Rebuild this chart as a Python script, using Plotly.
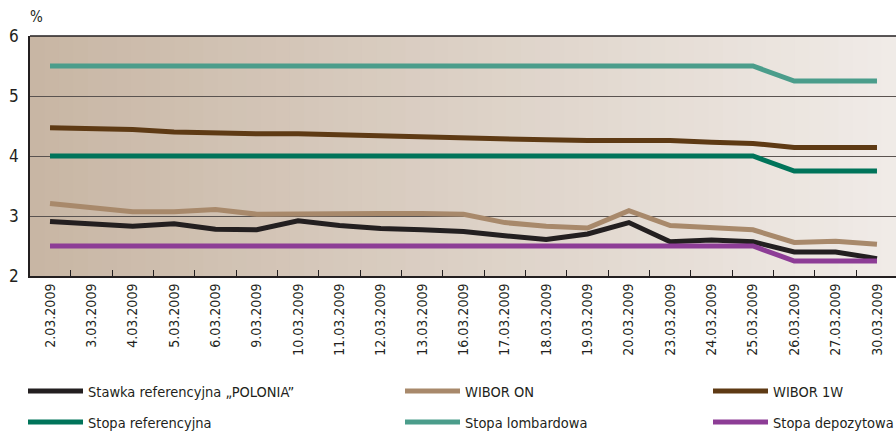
import plotly.graph_objects as go

dates = ["2.03.2009", "3.03.2009", "4.03.2009", "5.03.2009", "6.03.2009", "9.03.2009",
         "10.03.2009", "11.03.2009", "12.03.2009", "13.03.2009", "16.03.2009", "17.03.2009",
         "18.03.2009", "19.03.2009", "20.03.2009", "23.03.2009", "24.03.2009", "25.03.2009",
         "26.03.2009", "27.03.2009", "30.03.2009"]

polonia = [2.91, 2.88, 2.83, 2.87, 2.78, 2.77, 2.92, 2.84, 2.79, 2.77, 2.74, 2.67,
           2.61, 2.70, 2.89, 2.57, 2.60, 2.57, 2.40, 2.40, 2.29]
wibor_on = [3.21, 3.14, 3.07, 3.07, 3.11, 3.03, 3.04, 3.04, 3.04, 3.04, 3.03, 2.89,
            2.83, 2.80, 3.09, 2.84, 2.81, 2.77, 2.56, 2.58, 2.53]
wibor_1w = [4.47, 4.46, 4.44, 4.40, 4.38, 4.37, 4.37, 4.35, 4.33, 4.33, 4.30, 4.28,
            4.27, 4.26, 4.27, 4.26, 4.23, 4.21, 4.14, 4.14, 4.14]
stopa_ref = [4.0] * 18 + [3.75] * 3
stopa_lomb = [5.5] * 18 + [5.25] * 3
stopa_dep = [2.5] * 18 + [2.25] * 3

series = [
    ("Stawka referencyjna „POLONIA”", polonia, "#231f20"),
    ("WIBOR ON", wibor_on, "#a8896b"),
    ("WIBOR 1W", wibor_1w, "#5e3a14"),
    ("Stopa referencyjna", stopa_ref, "#00745a"),
    ("Stopa lombardowa", stopa_lomb, "#4b9d8b"),
    ("Stopa depozytowa", stopa_dep, "#8d3d96"),
]

FONT = "DejaVu Sans Condensed, Liberation Sans Narrow, Arial Narrow, sans-serif"
W, H = 896, 432

# legend slot positions (pixels in the page): column left, row top
col_px = [23, 400, 708]
row_px = [375, 406]

fig = go.Figure()
order = [4, 2, 3, 1, 0, 5]
legend_layout = {}
for i in order:
    name, vals, col = series[i]
    lname = "legend" if i == 0 else "legend%d" % (i + 1)
    fig.add_trace(go.Scatter(x=dates, y=vals, name=name, mode="lines",
                             line=dict(color=col, width=5), legend=lname))
    legend_layout[lname] = dict(
        xref="container", yref="container",
        x=col_px[i % 3] / W, xanchor="left",
        y=(H - row_px[i // 3]) / H, yanchor="top",
        itemwidth=55, font=dict(size=14.5, family=FONT, color="#231f20"),
        bgcolor="rgba(0,0,0,0)", borderwidth=0,
    )

# background gradient strips
n = 60
c0 = (200, 182, 164)
c1 = (240, 235, 231)
shapes = []
for k in range(n):
    t = k / (n - 1)
    c = tuple(round(c0[j] + (c1[j] - c0[j]) * t) for j in range(3))
    shapes.append(dict(type="rect", xref="paper", yref="paper",
                       x0=k / n, x1=(k + 1) / n + 0.002, y0=0, y1=1,
                       fillcolor="rgb(%d,%d,%d)" % c, line=dict(width=0),
                       layer="below"))
shapes.append(dict(type="line", xref="paper", yref="paper", x0=0, x1=1, y0=1, y1=1,
                   line=dict(color="#231f20", width=1.5)))

fig.update_layout(
    width=W, height=H,
    margin=dict(l=30, r=0, t=36, b=156, autoexpand=False),
    paper_bgcolor="white",
    plot_bgcolor="rgba(0,0,0,0)",
    font=dict(family=FONT, size=14, color="#231f20"),
    shapes=shapes,
    showlegend=True,
    annotations=[dict(text="%", xref="paper", yref="paper", x=0.007, y=1.0,
                      xanchor="center", yanchor="bottom", yshift=8, showarrow=False,
                      font=dict(size=15))],
    **legend_layout,
)

fig.update_xaxes(
    type="category", range=[-0.484, 20.46], tickangle=-90,
    showline=True, linecolor="#231f20", linewidth=2,
    ticks="inside", tickson="boundaries", ticklen=6, tickcolor="#231f20", tickwidth=1,
    showgrid=False, tickfont=dict(size=14), automargin=False,
)
fig.update_yaxes(
    range=[2, 6], tickvals=[2, 3, 4, 5, 6], showline=True, linecolor="#231f20", linewidth=1.5,
    showgrid=True, gridcolor="#5a5350", gridwidth=1, ticks="", zeroline=False,
    tickfont=dict(size=17), ticklabelstandoff=6, automargin=False,
)

fig.write_html("out.html", config={"displayModeBar": False},
               post_script="document.body.style.margin='0';")
